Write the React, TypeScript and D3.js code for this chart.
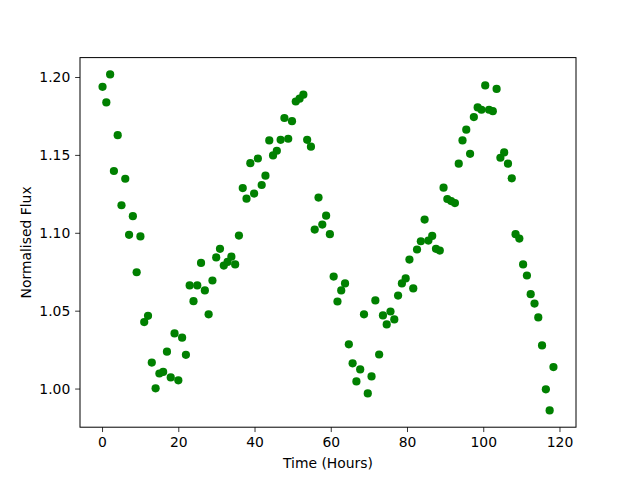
import React from 'react';
import * as d3 from 'd3';

// time of each sample, hours
const hours = [
  0, 0.99, 1.99, 2.98, 3.98, 4.97, 5.96, 6.96, 7.95, 8.95,
  9.94, 10.93, 11.93, 12.92, 13.92, 14.91, 15.9, 16.9, 17.89, 18.89,
  19.88, 20.87, 21.87, 22.86, 23.86, 24.85, 25.84, 26.84, 27.83, 28.83,
  29.82, 30.81, 31.81, 32.8, 33.8, 34.79, 35.78, 36.78, 37.77, 38.77,
  39.76, 40.75, 41.75, 42.74, 43.74, 44.73, 45.72, 46.72, 47.71, 48.71,
  49.7, 50.69, 51.69, 52.68, 53.68, 54.67, 55.66, 56.66, 57.65, 58.65,
  59.64, 60.63, 61.63, 62.62, 63.62, 64.61, 65.6, 66.6, 67.59, 68.59,
  69.58, 70.57, 71.57, 72.56, 73.56, 74.55, 75.54, 76.54, 77.53, 78.53,
  79.52, 80.51, 81.51, 82.5, 83.5, 84.49, 85.48, 86.48, 87.47, 88.47,
  89.46, 90.45, 91.45, 92.44, 93.44, 94.43, 95.42, 96.42, 97.41, 98.41,
  99.4, 100.39, 101.39, 102.38, 103.38, 104.37, 105.36, 106.36, 107.35, 108.35,
  109.34, 110.33, 111.33, 112.32, 113.32, 114.31, 115.3, 116.3, 117.29, 118.29,
];

// normalised flux
const flux = [
  1.194, 1.184, 1.202, 1.14, 1.163, 1.118, 1.135, 1.099, 1.111, 1.075,
  1.098, 1.043, 1.047, 1.017, 1.0005, 1.01, 1.011, 1.024, 1.0075, 1.0357,
  1.0056, 1.033, 1.022, 1.0665, 1.0564, 1.0665, 1.081, 1.0633, 1.048, 1.0697,
  1.0845, 1.09, 1.0793, 1.0816, 1.085, 1.08, 1.0985, 1.129, 1.1222, 1.145,
  1.1255, 1.148, 1.131, 1.137, 1.1596, 1.15, 1.153, 1.16, 1.174, 1.1607,
  1.172, 1.1846, 1.1864, 1.189, 1.16, 1.1556, 1.1024, 1.1229, 1.1056, 1.1113,
  1.0994, 1.0722, 1.0562, 1.0633, 1.0678, 1.0287, 1.0165, 1.0049, 1.0126, 1.048,
  0.9972, 1.0081, 1.0569, 1.0222, 1.0473, 1.0415, 1.0498, 1.0447, 1.06, 1.0678,
  1.071, 1.0831, 1.0646, 1.0896, 1.0949, 1.1088, 1.0953, 1.0983, 1.09, 1.0889,
  1.1293, 1.122, 1.1207, 1.1194, 1.1447, 1.1596, 1.1665, 1.151, 1.1746, 1.1808,
  1.1793, 1.1949, 1.1793, 1.1784, 1.1927, 1.1485, 1.1519, 1.1447, 1.1353, 1.0994,
  1.0966, 1.08, 1.0729, 1.0609, 1.0549, 1.046, 1.028, 0.9998, 0.9863, 1.0141,
];

const xTicks = [0, 20, 40, 60, 80, 100, 120];
const yTicks = [1.0, 1.05, 1.1, 1.15, 1.2];

const W = 640;
const H = 480;
const m = { left: 80, right: 576, top: 57.6, bottom: 427.2 };
const font = 'DejaVu Sans, sans-serif';

export default function App() {
  // matplotlib-style 5% padding around the data
  const [x0, x1] = d3.extent(hours) as [number, number];
  const [y0, y1] = d3.extent(flux) as [number, number];
  const px = (x1 - x0) * 0.05;
  const py = (y1 - y0) * 0.05;

  const x = d3.scaleLinear().domain([x0 - px, x1 + px]).range([m.left, m.right]);
  const y = d3.scaleLinear().domain([y0 - py, y1 + py]).range([m.bottom, m.top]);

  const tick = 4.86;

  return (
    <svg
      width={W}
      height={H}
      style={{ position: 'absolute', left: 0, top: 0, background: '#fff' }}
      fontFamily={font}
    >
      <rect x={0} y={0} width={W} height={H} fill='#fff' />

      {hours.map((h, i) => (
        <circle key={i} cx={x(h)} cy={y(flux[i])} r={4.1} fill='#008000' />
      ))}

      <rect
        x={m.left}
        y={m.top}
        width={m.right - m.left}
        height={m.bottom - m.top}
        fill='none'
        stroke='#000'
        strokeWidth={1}
      />

      {xTicks.map((t) => (
        <g key={t} transform={`translate(${x(t)},${m.bottom})`}>
          <line y2={tick} stroke='#000' strokeWidth={0.8} />
          <text y={tick + 15} textAnchor='middle' fontSize={13.9} fill='#000'>
            {t}
          </text>
        </g>
      ))}

      {yTicks.map((t) => (
        <g key={t} transform={`translate(${m.left},${y(t)})`}>
          <line x2={-tick} stroke='#000' strokeWidth={0.8} />
          <text x={-tick - 4.9} dy='0.35em' textAnchor='end' fontSize={13.9} fill='#000'>
            {t.toFixed(2)}
          </text>
        </g>
      ))}

      <text x={(m.left + m.right) / 2} y={468} textAnchor='middle' fontSize={13.9} fill='#000'>
        Time (Hours)
      </text>
      <text
        transform={`translate(31,${(m.top + m.bottom) / 2}) rotate(-90)`}
        textAnchor='middle'
        fontSize={13.9}
        fill='#000'
      >
        Normalised Flux
      </text>
    </svg>
  );
}
